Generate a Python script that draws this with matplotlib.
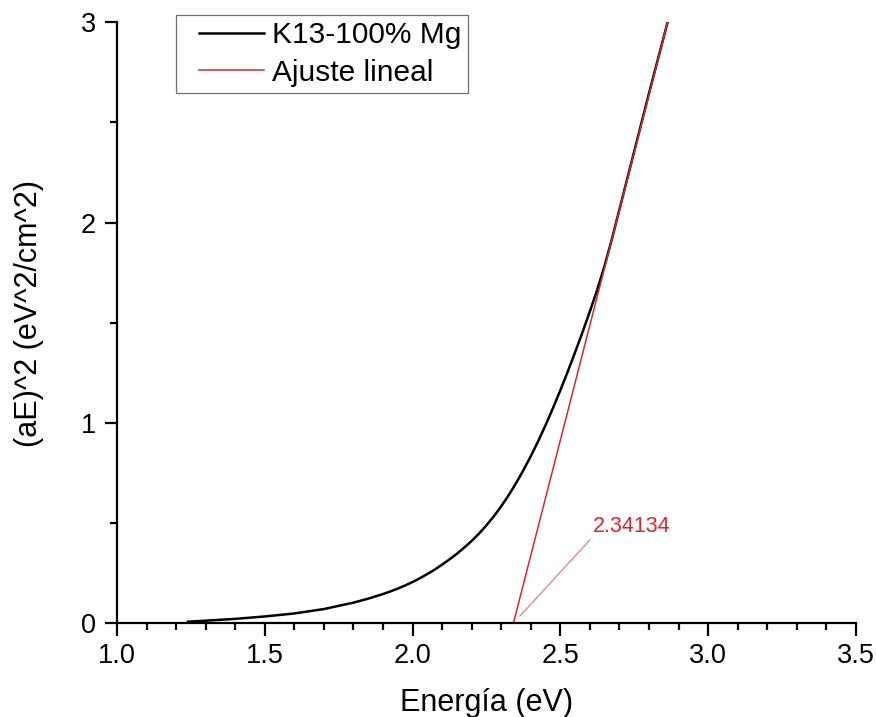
import matplotlib
matplotlib.use("Agg")
import matplotlib.pyplot as plt
from matplotlib.ticker import MultipleLocator
from matplotlib.legend_handler import HandlerLine2D
import numpy as np

# Tauc plot data
energia = [1.24, 1.30, 1.40, 1.50, 1.60, 1.70, 1.80, 1.85, 1.90, 1.925, 1.95, 1.975,
           2.000, 2.025, 2.050, 2.075, 2.100, 2.125, 2.150, 2.175, 2.200, 2.225, 2.250,
           2.275, 2.300, 2.325, 2.350, 2.375, 2.400, 2.425, 2.450, 2.475, 2.500, 2.525,
           2.550, 2.575, 2.600, 2.625, 2.650, 2.675, 2.700, 2.750, 2.800, 2.863]
ae2 = [0.007, 0.012, 0.021, 0.033, 0.048, 0.070, 0.102, 0.122, 0.145, 0.158, 0.172, 0.188,
       0.205, 0.224, 0.245, 0.267, 0.292, 0.318, 0.346, 0.377, 0.410, 0.447, 0.488,
       0.533, 0.583, 0.638, 0.698, 0.763, 0.833, 0.908, 0.988, 1.073, 1.162, 1.255,
       1.352, 1.452, 1.556, 1.665, 1.785, 1.920, 2.065, 2.355, 2.645, 3.000]

# linear fit endpoints
fit_x = [2.34134, 2.863]
fit_y = [0.0, 3.0]
gap = 2.34134

red = "#d9262f"

plt.rcParams['font.family'] = ['Liberation Sans', 'DejaVu Sans']

fig = plt.figure(figsize=(8.76, 7.17), dpi=100)
ax = fig.add_axes([0.1336, 0.131, 0.8434, 0.838])

ax.plot(energia, ae2, color="black", lw=1.8, label="K13-100% Mg")
ax.plot(fit_x, fit_y, color=red, lw=1.1, label="Ajuste lineal")

ax.annotate(f"{gap:.5f}", xy=(gap, 0), xytext=(57, 62), textcoords="offset points",
            color=red, fontsize=15.5, ha="left", va="bottom",
            arrowprops=dict(arrowstyle="-", color=red, alpha=0.6, lw=0.9,
                            relpos=(0, 0), shrinkA=0, shrinkB=7))

ax.set_xlim(1.0, 3.5)
ax.set_ylim(0, 3)
ax.xaxis.set_major_locator(MultipleLocator(0.5))
ax.xaxis.set_minor_locator(MultipleLocator(0.1))
ax.yaxis.set_major_locator(MultipleLocator(1))
ax.yaxis.set_minor_locator(MultipleLocator(0.5))
ax.xaxis.set_major_formatter(plt.FormatStrFormatter('%.1f'))

for s in ["top", "right"]:
    ax.spines[s].set_visible(False)
for s in ["left", "bottom"]:
    ax.spines[s].set_linewidth(1.6)

ax.tick_params(which="major", direction="out", length=9, width=1.6, labelsize=19.5)
ax.tick_params(axis="x", which="major", pad=5)
ax.tick_params(axis="y", which="major", pad=6)
ax.tick_params(which="minor", direction="out", length=5, width=1.6)

ax.set_xlabel("Energía (eV)", fontsize=22, labelpad=14)
ax.set_ylabel("(aE)^2 (eV^2/cm^2)", fontsize=22)
ax.yaxis.set_label_coords(-0.099, 0.515)

hmap = {l: HandlerLine2D(xpad=0.57) for l in ax.get_lines()}
leg = ax.legend(loc="upper left", bbox_to_anchor=(176 / 876, 1 - 15 / 717),
                bbox_transform=fig.transFigure, fontsize=21.5, fancybox=False,
                framealpha=1, edgecolor="#707070", handlelength=2.75,
                borderpad=0.2, labelspacing=0.32, handletextpad=0.27, borderaxespad=0,
                handler_map=hmap)
leg.get_frame().set_linewidth(0.9)

fig.savefig("out.png", dpi=100)
